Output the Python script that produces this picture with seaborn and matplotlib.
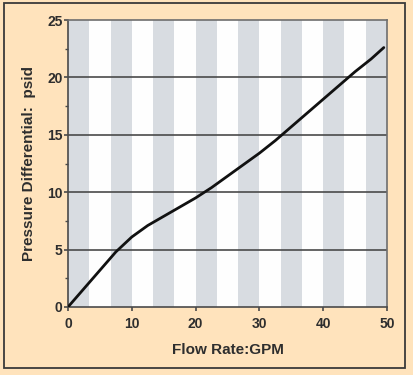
import matplotlib
matplotlib.use("Agg")
import matplotlib.pyplot as plt
from matplotlib.patches import Rectangle
import numpy as np
import pandas as pd
import seaborn as sns

# Flow rate (GPM) vs pressure differential (psid)
flow_gpm = [0, 2.5, 5, 7.5, 10, 12.5, 15, 17.5, 20, 22.5, 25, 27.5,
            30, 32.5, 35, 37.5, 40, 42.5, 45, 47.5, 49.5]
pressure_psid = [0, 1.6, 3.2, 4.8, 6.1, 7.1, 7.9, 8.7, 9.5, 10.4, 11.4, 12.4,
                 13.4, 14.5, 15.7, 16.9, 18.1, 19.3, 20.5, 21.6, 22.6]
x_ticks = [0, 10, 20, 30, 40, 50]
y_ticks = [0, 5, 10, 15, 20, 25]

PEACH = "#FFE3BC"
STRIPE = "#D8DCE1"
GRID = "#4A4A4A"
TEXT = "#2E2E2E"

sns.set_theme(style="white")
plt.rcParams["font.family"] = ["Liberation Sans", "DejaVu Sans"]

df = pd.DataFrame({"flow": flow_gpm, "dp": pressure_psid})

fig = plt.figure(figsize=(4.13, 3.75), dpi=100, facecolor=PEACH)
ax = fig.add_axes([68 / 413, 1 - 307 / 375, 319 / 413, 287 / 375])
ax.set_facecolor("#FEFEFE")

# alternating vertical bands, 15 equal bands across the x range
edges = np.linspace(0, 50, 16)
for lo, hi in zip(edges[0::2], edges[1::2]):
    ax.axvspan(lo, hi, color=STRIPE, lw=0, zorder=0)

for y in y_ticks[1:-1]:
    ax.axhline(y, color=GRID, lw=1.2, zorder=1)

sns.lineplot(data=df, x="flow", y="dp", color="#111111", lw=2.0, ax=ax, zorder=3)

ax.set_xlim(0, 50)
ax.set_ylim(0, 25)
ax.set_xticks(x_ticks)
ax.set_yticks(y_ticks)
ax.set_yticks(np.arange(2.5, 25, 5), minor=True)
ax.tick_params(axis="both", which="major", direction="out", length=3, width=1.2,
               color=GRID, labelsize=10, labelcolor=TEXT, left=True, bottom=True)
ax.tick_params(axis="x", which="major", pad=4)
ax.tick_params(axis="y", which="major", pad=1)
ax.tick_params(axis="y", which="minor", direction="out", length=2, width=1.0,
               color=GRID, left=True)
for lab in ax.get_xticklabels() + ax.get_yticklabels():
    lab.set_fontweight("bold")

for side in ["left", "bottom", "right", "top"]:
    ax.spines[side].set_color("#6E6E6E")
    ax.spines[side].set_linewidth(1.2)
ax.spines["left"].set_color(GRID)
ax.spines["bottom"].set_color(GRID)

ax.set_xlabel("Flow Rate:GPM", fontsize=11, fontweight="bold", color=TEXT, labelpad=9)
ax.set_ylabel("Pressure Differential:  psid", fontsize=11, fontweight="bold",
              color=TEXT, labelpad=8)

# outer frame around the whole graphic
fig.patches.append(Rectangle((4 / 413, 1 - 368 / 375), 401 / 413, 365 / 375,
                             transform=fig.transFigure, fill=False,
                             edgecolor="#3A3A3A", lw=1.3))

fig.savefig("out.png", dpi=100, facecolor=PEACH)
